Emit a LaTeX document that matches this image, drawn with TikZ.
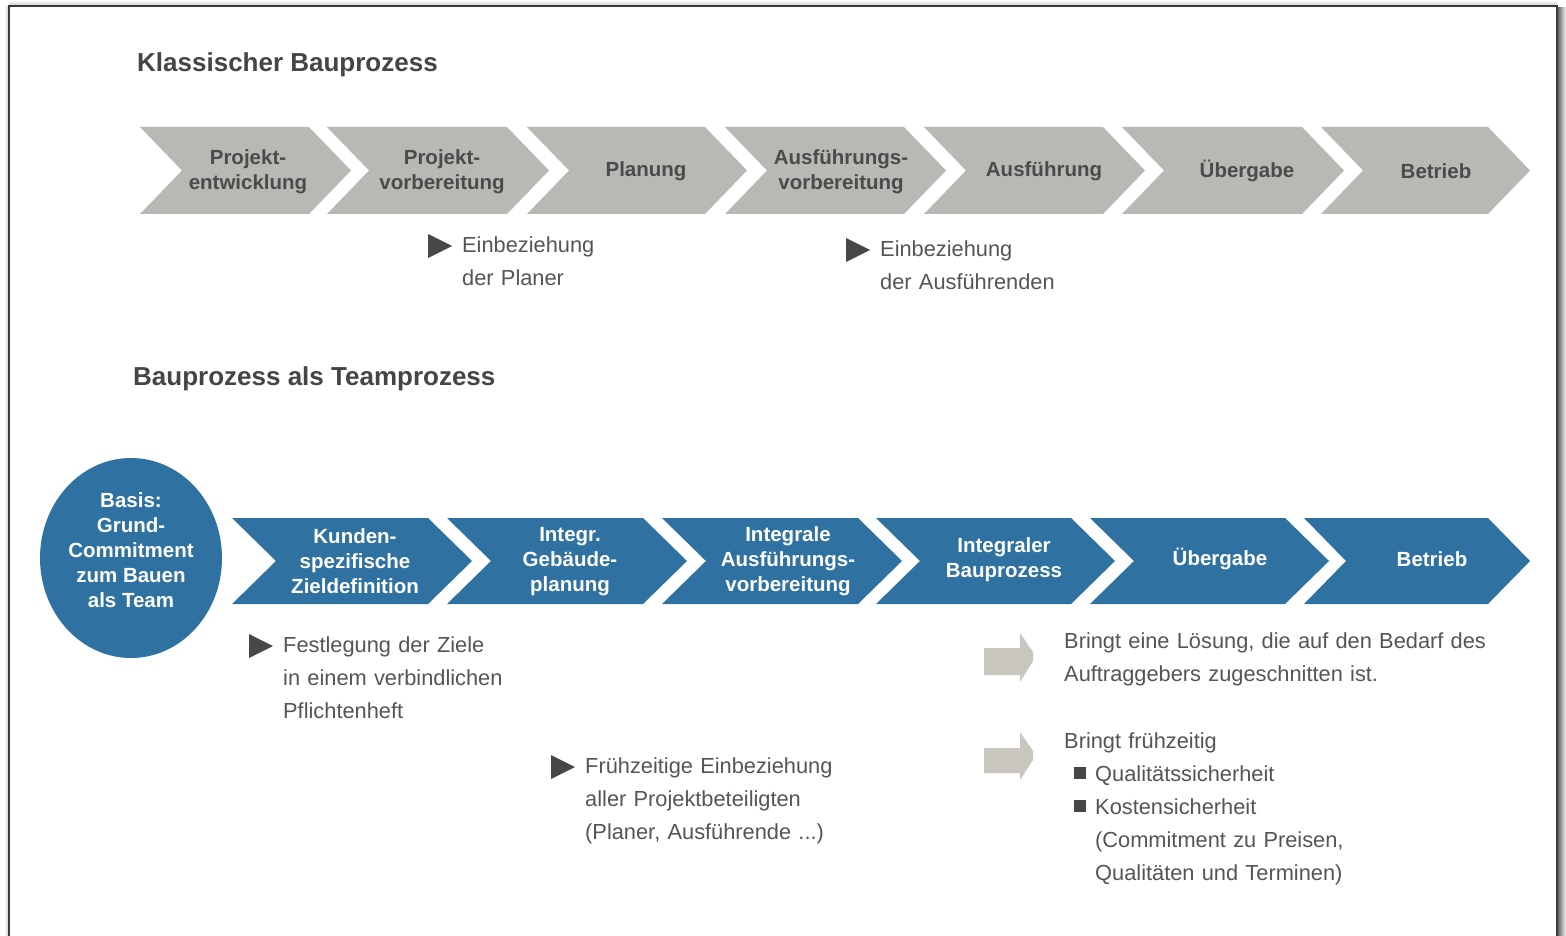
\documentclass[tikz,border=0pt]{standalone}
\usepackage{fontspec}
\setmainfont{Liberation Sans}
\usetikzlibrary{shapes.geometric}
\definecolor{chevgray}{HTML}{B9B8B4}
\definecolor{chevblue}{HTML}{2F71A0}
\definecolor{gtxt}{HTML}{4B4B4B}
\definecolor{notetxt}{HTML}{555555}
\definecolor{titletxt}{HTML}{454545}
\definecolor{tricol}{HTML}{474747}
\definecolor{arrowcol}{HTML}{C9C5BF}
\definecolor{framecol}{HTML}{3A3A3A}
\newcommand{\mychev}[6]{\fill[#1] (#2,#4) -- (#3,#4) -- ({#3+#6},{(#4+#5)/2}) -- (#3,#5) -- (#2,#5) -- ({#2+#6},{(#4+#5)/2}) -- cycle;}
\tikzset{
  gtext/.style={text=gtxt, font=\fontsize{20.5}{25}\selectfont\bfseries, align=center, inner sep=0pt},
  btext/.style={text=white, font=\fontsize{20.5}{25}\selectfont\bfseries, align=center, inner sep=0pt},
  note/.style={text=notetxt, font=\fontsize{21.8}{33}\selectfont, align=left, inner sep=0pt, anchor=base west, text width=470pt},
  titletext/.style={text=titletxt, font=\fontsize{26}{30}\selectfont\bfseries, inner sep=0pt, anchor=base west},
  tri/.style={fill=tricol},
  blockarrow/.style={fill=arrowcol},
  sqbullet/.style={fill=tricol}
}
\begin{document}
\begin{tikzpicture}[x=1pt,y=-1pt]
\useasboundingbox (0,0) rectangle (1566,936);
\clip (0,0) rectangle (1566,936);
\fill[white] (0,0) rectangle (1566,936);
% frame with shadow
\shade[left color=black!60, right color=black!3] (1558,8) rectangle (1566,940);
\shade[top color=white, bottom color=black!18] (9,0) rectangle (1557,5);
\fill[black!12] (6,6) rectangle (8,940);
\draw[framecol, line width=1.6pt] (9,950) -- (9,6) -- (1557,6) -- (1557,950);

% titles
\node[titletext] (t1) at (137,72) {Klassischer Bauprozess};
\node[titletext] (t2) at (133,385) {Bauprozess als Teamprozess};

% classic chevrons
\mychev{chevgray}{140}{309}{127}{214}{42}
\mychev{chevgray}{327}{507}{127}{214}{42}
\mychev{chevgray}{527}{705}{127}{214}{42}
\mychev{chevgray}{725}{904}{127}{214}{42}
\mychev{chevgray}{924}{1103}{127}{214}{42}
\mychev{chevgray}{1122}{1302}{127}{214}{42}
\mychev{chevgray}{1321}{1488}{127}{214}{42}
\node[gtext] (g1) at (248,172) {Projekt-\\entwicklung};
\node[gtext] (g2) at (442,172) {Projekt-\\vorbereitung};
\node[gtext] (g3) at (646,171) {Planung};
\node[gtext] (g4) at (841,172) {Ausführungs-\\vorbereitung};
\node[gtext] (g5) at (1044,171) {Ausführung};
\node[gtext] (g6) at (1247,171) {Übergabe};
\node[gtext] (g7) at (1436,171) {Betrieb};

% classic notes
\fill[tri] (428,234) -- (452,246) -- (428,258) -- cycle;
\node[note] (n1) at (462,252) {Einbeziehung\\der Planer};
\fill[tri] (846,238) -- (870,250) -- (846,262) -- cycle;
\node[note] (n2) at (880,256) {Einbeziehung\\der Ausführenden};

% team process
\node[ellipse, fill=chevblue, minimum width=182pt, minimum height=200pt, inner sep=0pt] (basis) at (131,558) {};
\node[btext] (basistext) at (131,550) {Basis:\\Grund-\\Commitment\\zum Bauen\\als Team};

\mychev{chevblue}{232}{428}{518}{604}{44}
\mychev{chevblue}{447}{643}{518}{604}{44}
\mychev{chevblue}{662}{858}{518}{604}{44}
\mychev{chevblue}{876}{1071}{518}{604}{44}
\mychev{chevblue}{1090}{1285}{518}{604}{44}
\mychev{chevblue}{1304}{1488}{518}{604}{42}
\node[btext] (b1) at (355,561) {Kunden-\\spezifische\\Zieldefinition};
\node[btext] (b2) at (570,562) {Integr.\\Gebäude-\\planung};
\node[btext] (b3) at (788,561) {Integrale\\Ausführungs-\\vorbereitung};
\node[btext] (b4) at (1004,560) {Integraler\\Bauprozess};
\node[btext] (b5) at (1220,559) {Übergabe};
\node[btext] (b6) at (1432,559) {Betrieb};

% team notes
\fill[tri] (249,634) -- (273,646) -- (249,658) -- cycle;
\node[note] (n3) at (283,652) {Festlegung der Ziele\\in einem verbindlichen\\Pflichtenheft};
\fill[tri] (551,755) -- (575,767) -- (551,779) -- cycle;
\node[note] (n4) at (585,773) {Frühzeitige Einbeziehung\\aller Projektbeteiligten\\(Planer, Ausführende ...)};

% block arrows
\fill[blockarrow] (984,648) -- (1020,648) -- (1020,633) -- (1033,652) -- (1033,661) -- (1020,682) -- (1020,675) -- (984,675) -- cycle;
\fill[blockarrow] (984,748) -- (1020,748) -- (1020,732) -- (1033,751) -- (1033,760) -- (1020,780) -- (1020,773) -- (984,773) -- cycle;

\node[note] (r1) at (1064,648) {Bringt eine Lösung, die auf den Bedarf des\\Auftraggebers zugeschnitten ist.};
\node[note] (r2) at (1064,748) {Bringt frühzeitig};
\fill[sqbullet] (1074,767) rectangle (1086,779);
\fill[sqbullet] (1074,800) rectangle (1086,812);
\node[note] (r3) at (1095,781) {Qualitätssicherheit\\Kostensicherheit\\(Commitment zu Preisen,\\Qualitäten und Terminen)};
\end{tikzpicture}
\end{document}
